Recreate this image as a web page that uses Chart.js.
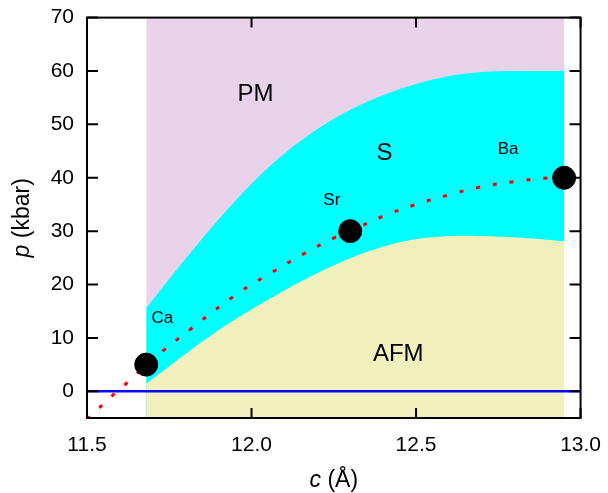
<!DOCTYPE html>
<html>
<head>
    <meta charset="UTF-8">
    <title>Phase diagram p vs c</title>
    <script src="https://cdn.jsdelivr.net/npm/chart.js"></script>
    <style>
        body { margin: 0; background: #fff; }
        #wrap { width: 608px; height: 493px; }
    </style>
</head>
<body>
    <div id="wrap"><canvas id="phaseChart"></canvas></div>
    <script>
        // tick values
        const xTicks = [11.5, 12.0, 12.5, 13.0];
        const yTicks = [0, 10, 20, 30, 40, 50, 60, 70];

        // PM / S boundary
        const upperC = [11.68, 11.78, 11.88, 11.98, 12.08, 12.18, 12.28, 12.38, 12.48, 12.58, 12.68, 12.78, 12.95];
        const upperP = [15.6, 23.4, 30.8, 37.6, 43.5, 48.3, 52.1, 55.0, 57.2, 58.8, 59.7, 60.0, 60.0];

        // S / AFM boundary
        const lowerC = [11.68, 11.78, 11.88, 11.98, 12.08, 12.18, 12.28, 12.38, 12.48, 12.58, 12.68, 12.78, 12.88, 12.95];
        const lowerP = [1.4, 6.1, 10.6, 14.6, 18.2, 21.5, 24.4, 26.7, 28.3, 29.0, 29.1, 28.9, 28.5, 28.1];

        // red dotted guide through the compounds
        const fitC = [11.50, 11.584, 11.635, 11.68, 11.82, 11.96, 12.06, 12.16, 12.25, 12.30, 12.40, 12.50, 12.60, 12.69, 12.80, 12.89, 12.95];
        const fitP = [-5.3, -0.4, 2.3, 5.0, 11.9, 18.4, 22.2, 25.8, 28.7, 30.0, 32.8, 35.0, 36.8, 38.2, 39.3, 39.9, 40.1];

        // compounds
        const sampleC = [11.68, 12.30, 12.95];
        const sampleP = [5, 30, 40];

        // shaded range of c
        const regionC = [11.68, 12.95];
        const pTop = 70;

        // text labels placed in data coordinates
        const labelText = ['PM', 'S', 'AFM', 'Ca', 'Sr', 'Ba'];
        const labelC = [12.012, 12.404, 12.446, 11.729, 12.244, 12.78];
        const labelP = [55.7, 44.5, 7.0, 13.7, 35.7, 45.4];
        const labelSize = [24, 24, 24, 17, 17, 17];

        const pts = (xs, ys) => xs.map((x, i) => ({ x: x, y: ys[i] }));

        Chart.defaults.font.family = '"Liberation Sans", Arial, sans-serif';
        Chart.defaults.color = '#000';

        const framePlugin = {
            id: 'frame',
            afterDraw(chart) {
                const { ctx, chartArea: a, scales } = chart;
                const xs = scales.x, ys = scales.y;
                ctx.save();

                // labels in the regions
                ctx.fillStyle = '#000';
                ctx.textAlign = 'center';
                ctx.textBaseline = 'middle';
                labelText.forEach((t, i) => {
                    ctx.font = labelSize[i] + 'px "Liberation Sans", Arial, sans-serif';
                    ctx.fillText(t, xs.getPixelForValue(labelC[i]), ys.getPixelForValue(labelP[i]));
                });

                // box and inward ticks
                ctx.strokeStyle = '#000';
                ctx.lineWidth = 2;
                ctx.strokeRect(a.left, a.top, a.right - a.left, a.bottom - a.top);
                ctx.beginPath();
                xTicks.forEach(v => {
                    const px = xs.getPixelForValue(v);
                    ctx.moveTo(px, a.bottom); ctx.lineTo(px, a.bottom - 10);
                    ctx.moveTo(px, a.top); ctx.lineTo(px, a.top + 10);
                });
                yTicks.forEach(v => {
                    const py = ys.getPixelForValue(v);
                    ctx.moveTo(a.left, py); ctx.lineTo(a.left + 11, py);
                    ctx.moveTo(a.right, py); ctx.lineTo(a.right - 11, py);
                });
                ctx.stroke();

                // axis titles with italic symbol
                const it = 'italic 23px "Liberation Sans", Arial, sans-serif';
                const rm = '23px "Liberation Sans", Arial, sans-serif';
                ctx.textAlign = 'left';
                ctx.textBaseline = 'alphabetic';

                ctx.font = it; const wc = ctx.measureText('c').width;
                ctx.font = rm; const wx = ctx.measureText(' (Å)').width;
                let x0 = (a.left + a.right) / 2 - (wc + wx) / 2;
                ctx.font = it; ctx.fillText('c', x0, 487);
                ctx.font = rm; ctx.fillText(' (Å)', x0 + wc, 487);

                ctx.translate(29, (a.top + a.bottom) / 2);
                ctx.rotate(-Math.PI / 2);
                ctx.font = it; const wp = ctx.measureText('p').width;
                ctx.font = rm; const wk = ctx.measureText(' (kbar)').width;
                x0 = -(wp + wk) / 2;
                ctx.font = it; ctx.fillText('p', x0, 0);
                ctx.font = rm; ctx.fillText(' (kbar)', x0 + wp, 0);

                ctx.restore();
            }
        };

        const chart = new Chart(document.getElementById('phaseChart'), {
            type: 'scatter',
            data: {
                datasets: [
                    {
                        label: 'PM',
                        data: pts(regionC, [pTop, pTop]),
                        showLine: true, borderWidth: 0, pointRadius: 0,
                        fill: 'start', backgroundColor: '#e9d3ea', order: 10
                    },
                    {
                        label: 'S',
                        data: pts(upperC, upperP),
                        showLine: true, borderWidth: 0, pointRadius: 0,
                        cubicInterpolationMode: 'monotone',
                        fill: 'start', backgroundColor: '#00ffff', order: 9
                    },
                    {
                        label: 'AFM',
                        data: pts(lowerC, lowerP),
                        showLine: true, borderWidth: 0, pointRadius: 0,
                        tension: 0.4,
                        fill: 'start', backgroundColor: '#f2f0bc', order: 8
                    },
                    {
                        label: 'zero',
                        data: pts([11.5, 13.0], [0, 0]),
                        showLine: true, borderColor: '#0a0af0', borderWidth: 2.5,
                        pointRadius: 0, order: 4
                    },
                    {
                        label: 'guide',
                        data: pts(fitC, fitP),
                        showLine: true, borderColor: '#ff0000', borderWidth: 3,
                        borderDash: [4, 13], borderCapStyle: 'butt',
                        tension: 0.4,
                        pointRadius: 0, order: 3
                    },
                    {
                        label: 'compounds',
                        data: pts(sampleC, sampleP),
                        showLine: false, pointRadius: 11.5,
                        backgroundColor: '#000', borderColor: '#000', order: 1
                    }
                ]
            },
            options: {
                responsive: true,
                maintainAspectRatio: false,
                animation: false,
                layout: { padding: { top: 8, right: 16, left: 0, bottom: 0 } },
                plugins: {
                    legend: { display: false },
                    tooltip: { enabled: false }
                },
                scales: {
                    x: {
                        type: 'linear', min: 11.5, max: 13.0,
                        afterBuildTicks: s => { s.ticks = xTicks.map(v => ({ value: v })); },
                        afterFit: s => { s.height = 75; },
                        ticks: {
                            font: { size: 21 }, padding: 7, maxRotation: 0,
                            callback: v => v.toFixed(1)
                        },
                        grid: { display: false },
                        border: { display: false }
                    },
                    y: {
                        type: 'linear', min: -5, max: 70,
                        afterBuildTicks: s => { s.ticks = yTicks.map(v => ({ value: v })); },
                        afterFit: s => { s.width = 87; },
                        ticks: { font: { size: 21 }, padding: 5 },
                        grid: { display: false },
                        border: { display: false }
                    }
                }
            },
            plugins: [framePlugin]
        });
    </script>
</body>
</html>
